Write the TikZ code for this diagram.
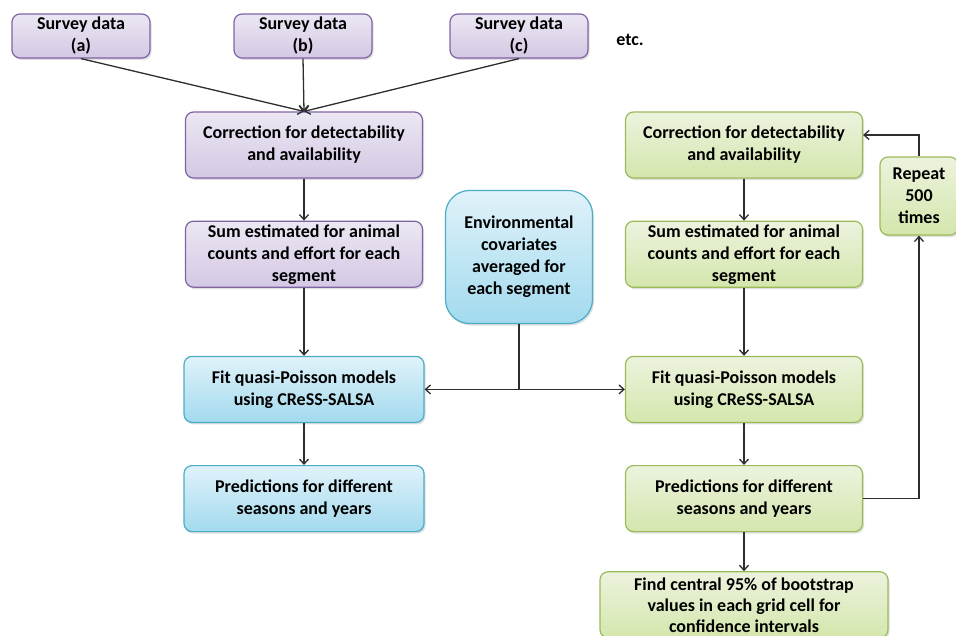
\documentclass[tikz,border=0pt]{standalone}
\usepackage{fontspec}
\setmainfont{Carlito}
\usepackage{xcolor}
\usepackage{tikz}
\usetikzlibrary{positioning,arrows.meta,shadows}
\definecolor{svpurple}{RGB}{128,100,162}
\definecolor{svpurpletop}{RGB}{236,231,243}
\definecolor{svpurplebot}{RGB}{212,200,228}
\definecolor{svblue}{RGB}{75,172,198}
\definecolor{svbluetop}{RGB}{224,242,250}
\definecolor{svbluebot}{RGB}{162,218,238}
\definecolor{svgreen}{RGB}{155,187,89}
\definecolor{svgreentop}{RGB}{236,243,222}
\definecolor{svgreenbot}{RGB}{212,230,172}
\definecolor{svline}{RGB}{45,45,45}

\begin{document}
\begin{tikzpicture}[
  x=1pt, y=-1pt,
  node distance=42pt,
  box/.style={rectangle, draw, rounded corners=8pt, line width=1.2pt,
              minimum width=237pt, minimum height=66pt, inner sep=0pt,
              align=center, font=\fontsize{18}{22}\selectfont\bfseries,
              drop shadow={shadow xshift=1.5pt, shadow yshift=-2pt, opacity=0.25}},
  pbox/.style={box, draw=svpurple, top color=svpurpletop, bottom color=svpurplebot},
  bbox/.style={box, draw=svblue, top color=svbluetop, bottom color=svbluebot},
  gbox/.style={box, draw=svgreen, top color=svgreentop, bottom color=svgreenbot},
  survey/.style={pbox, minimum width=138pt, minimum height=44pt},
  arrow/.style={-{Straight Barb[length=5pt,width=9pt]}, line width=1.3pt, draw=svline},
  link/.style={line width=1.3pt, draw=svline}
]
\useasboundingbox (0,0) rectangle (956,635);

% Survey data
\node[survey] (sa) at (81,36) {Survey data\\(a)};
\node[survey] (sb) at (303,36) {Survey data\\(b)};
\node[survey] (sc) at (519,36) {Survey data\\(c)};
\node[font=\fontsize{18}{22}\selectfont\bfseries] (etc) at (630,40) {etc.};

% Left column
\node[pbox] (pcorr) at (304,145) {Correction for detectability\\and availability};
\node[pbox, below=of pcorr] (psum) {Sum estimated for animal\\counts and effort for each\\segment};
\node[bbox, minimum width=240pt, below=68pt of psum] (bfit) {Fit quasi-Poisson models\\using CReSS-SALSA};
\node[bbox, minimum width=240pt, below=42pt of bfit] (bpred) {Predictions for different\\seasons and years};

% Covariates
\node[bbox, minimum width=147pt, minimum height=133pt, rounded corners=24pt] (env) at (519,257)
  {Environmental\\covariates\\averaged for\\each segment};

% Right column
\node[gbox] (gcorr) at (744,145) {Correction for detectability\\and availability};
\node[gbox, below=of gcorr] (gsum) {Sum estimated for animal\\counts and effort for each\\segment};
\node[gbox, below=68pt of gsum] (gfit) {Fit quasi-Poisson models\\using CReSS-SALSA};
\node[gbox, below=42pt of gfit] (gpred) {Predictions for different\\seasons and years};
\node[gbox, minimum width=288pt, below=39pt of gpred, font=\fontsize{18}{21}\selectfont\bfseries] (find)
  {Find central 95\% of bootstrap\\values in each grid cell for\\confidence intervals};
\node[gbox, minimum width=78pt, minimum height=78pt] (rep) at (919,196) {Repeat\\500\\times};

% Arrows
\draw[arrow] (sa.south) -- (pcorr.north);
\draw[arrow] (sb.south) -- (pcorr.north);
\draw[arrow] (sc.south) -- (pcorr.north);
\draw[arrow] (pcorr) -- (psum);
\draw[arrow] (psum) -- (bfit);
\draw[arrow] (bfit) -- (bpred);

\coordinate (split) at (env.south |- bfit.east);
\draw[link] (env.south) -- (split);
\draw[arrow] (split) -- (bfit.east);
\draw[arrow] (split) -- (gfit.west);

\draw[arrow] (gcorr) -- (gsum);
\draw[arrow] (gsum) -- (gfit);
\draw[arrow] (gfit) -- (gpred);
\draw[arrow] (gpred) -- (find);
\draw[arrow] (gpred.east) -| (rep.south);
\draw[arrow] (rep.north) |- ([yshift=10pt]gcorr.east);

\end{tikzpicture}
\end{document}
